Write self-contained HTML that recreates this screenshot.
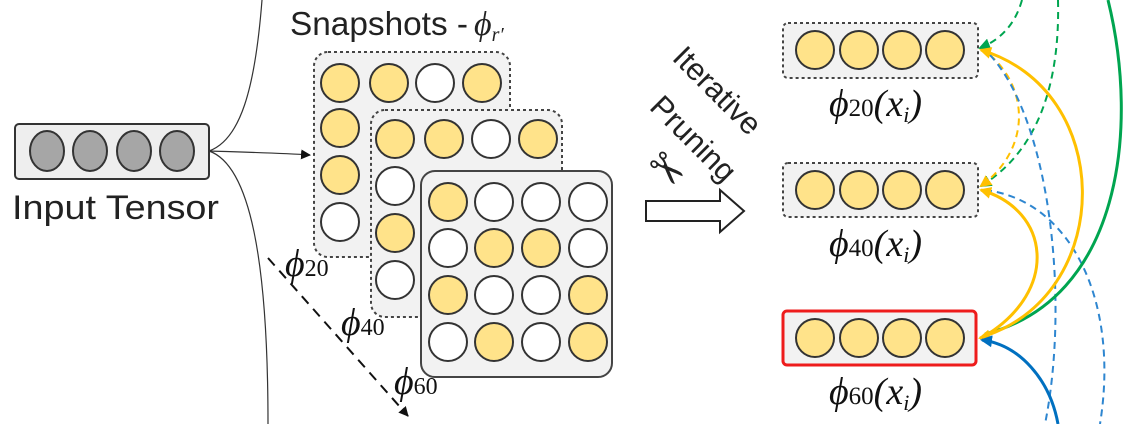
<!DOCTYPE html>
<html><head><meta charset="utf-8"><style>
html,body{margin:0;padding:0;background:#fff;}
svg{display:block;}
.sans{font-family:"Liberation Sans",sans-serif;}
.ser{font-family:"Liberation Serif","DejaVu Serif",serif;font-style:italic;}
</style></head><body>
<svg width="1143" height="424" viewBox="0 0 1143 424" xmlns="http://www.w3.org/2000/svg">
<defs>
<marker id="ak" markerWidth="10" markerHeight="10" refX="9" refY="5" orient="auto" markerUnits="userSpaceOnUse"><path d="M0,0 L10,5 L0,10 z" fill="#111"/></marker>
<marker id="ay" markerWidth="12" markerHeight="12" refX="10" refY="6" orient="auto" markerUnits="userSpaceOnUse"><path d="M0,0 L12,6 L0,12 z" fill="#FFC000"/></marker>
<marker id="ag" markerWidth="12" markerHeight="12" refX="10" refY="6" orient="auto" markerUnits="userSpaceOnUse"><path d="M0,0 L12,6 L0,12 z" fill="#00A550"/></marker>
<marker id="ab" markerWidth="12" markerHeight="12" refX="10" refY="6" orient="auto" markerUnits="userSpaceOnUse"><path d="M0,0 L12,6 L0,12 z" fill="#0070C0"/></marker>
</defs>

<path d="M209,151 C240,140 255,90 262,0" fill="none" stroke="#333" stroke-width="1.2"/>
<path d="M209,151 C240,152 280,153 310,155" fill="none" stroke="#333" stroke-width="1.2" marker-end="url(#ak)"/>
<path d="M209,151 C250,165 268,260 268,424" fill="none" stroke="#333" stroke-width="1.2"/>

<rect x="15" y="124" width="194" height="55" rx="4" fill="#eee" stroke="#333" stroke-width="2"/>
<g fill="#a6a6a6" stroke="#333" stroke-width="2">
<ellipse cx="47" cy="151" rx="17" ry="20"/><ellipse cx="90" cy="151" rx="17" ry="20"/>
<ellipse cx="134" cy="151" rx="17" ry="20"/><ellipse cx="177" cy="151" rx="17" ry="20"/>
</g>
<text x="12" y="219" class="sans" font-size="34" fill="#222" textLength="207" lengthAdjust="spacingAndGlyphs">Input Tensor</text>

<text x="290" y="35" class="sans" font-size="33" fill="#222"><tspan textLength="178" lengthAdjust="spacingAndGlyphs">Snapshots -</tspan><tspan class="ser" font-size="34" dx="6">ϕ</tspan><tspan class="ser" font-size="20" dy="6">r′</tspan></text>

<rect x="314" y="52" width="196" height="205" rx="14" fill="#f2f2f2" stroke="#444" stroke-width="2" stroke-dasharray="3,3"/>
<g stroke="#333" stroke-width="2">
<circle cx="340" cy="83" r="19" fill="#FFE38A"/><circle cx="389" cy="83" r="19" fill="#FFE38A"/><circle cx="435" cy="83" r="19" fill="#fff"/><circle cx="482" cy="83" r="19" fill="#FFE38A"/>
<circle cx="340" cy="128" r="19" fill="#FFE38A"/><circle cx="340" cy="175" r="19" fill="#FFE38A"/><circle cx="340" cy="222" r="19" fill="#fff"/>
</g>
<rect x="371" y="110" width="191" height="207" rx="14" fill="#f2f2f2" stroke="#444" stroke-width="2" stroke-dasharray="3,3"/>
<g stroke="#333" stroke-width="2">
<circle cx="395" cy="139" r="19" fill="#FFE38A"/><circle cx="444" cy="139" r="19" fill="#FFE38A"/><circle cx="491" cy="139" r="19" fill="#fff"/><circle cx="538" cy="139" r="19" fill="#FFE38A"/>
<circle cx="395" cy="186" r="19" fill="#fff"/><circle cx="395" cy="233" r="19" fill="#FFE38A"/><circle cx="395" cy="280" r="19" fill="#fff"/>
</g>
<rect x="421" y="171" width="191" height="206" rx="14" fill="#f2f2f2" stroke="#444" stroke-width="2"/>
<g stroke="#333" stroke-width="2">
<circle cx="448" cy="202" r="19" fill="#FFE38A"/><circle cx="494" cy="202" r="19" fill="#fff"/><circle cx="541" cy="202" r="19" fill="#fff"/><circle cx="588" cy="202" r="19" fill="#fff"/>
<circle cx="448" cy="248" r="19" fill="#fff"/><circle cx="494" cy="248" r="19" fill="#FFE38A"/><circle cx="541" cy="248" r="19" fill="#FFE38A"/><circle cx="588" cy="248" r="19" fill="#fff"/>
<circle cx="448" cy="295" r="19" fill="#FFE38A"/><circle cx="494" cy="295" r="19" fill="#fff"/><circle cx="541" cy="295" r="19" fill="#fff"/><circle cx="588" cy="295" r="19" fill="#FFE38A"/>
<circle cx="448" cy="342" r="19" fill="#fff"/><circle cx="494" cy="342" r="19" fill="#FFE38A"/><circle cx="541" cy="342" r="19" fill="#fff"/><circle cx="588" cy="342" r="19" fill="#FFE38A"/>
</g>

<line x1="268" y1="258" x2="408" y2="416" stroke="#111" stroke-width="2" stroke-dasharray="10,7" marker-end="url(#ak)"/>
<text x="285" y="276" class="ser" font-size="38" fill="#111">ϕ<tspan font-size="24" font-style="normal">20</tspan></text>
<text x="341" y="335" class="ser" font-size="38" fill="#111">ϕ<tspan font-size="24" font-style="normal">40</tspan></text>
<text x="394" y="394" class="ser" font-size="38" fill="#111">ϕ<tspan font-size="24" font-style="normal">60</tspan></text>

<text class="sans" font-size="31" fill="#222" text-anchor="middle" transform="translate(710,98) rotate(45)">Iterative</text>
<text class="sans" font-size="31" fill="#222" text-anchor="middle" transform="translate(686,146) rotate(45)">Pruning</text>
<text x="0" y="0" font-size="44" fill="#222" font-family="DejaVu Sans,sans-serif" text-anchor="middle" transform="translate(656,180) rotate(45)">✂</text>
<path d="M646,201 L720,201 L720,190 L744,211 L720,232 L720,221 L646,221 Z" fill="#fff" stroke="#222" stroke-width="2"/>

<rect x="783" y="23" width="195" height="55" rx="5" fill="#f2f2f2" stroke="#444" stroke-width="2" stroke-dasharray="3,3"/>
<rect x="783" y="163" width="195" height="54" rx="5" fill="#f2f2f2" stroke="#444" stroke-width="2" stroke-dasharray="3,3"/>
<rect x="783" y="311" width="193" height="54" rx="4" fill="#f2f2f2" stroke="#ee1c1c" stroke-width="3"/>
<g stroke="#333" stroke-width="2" fill="#FFE38A">
<circle cx="815" cy="50" r="19"/><circle cx="859" cy="50" r="19"/><circle cx="902" cy="50" r="19"/><circle cx="945" cy="50" r="19"/>
<circle cx="815" cy="190" r="19"/><circle cx="859" cy="190" r="19"/><circle cx="902" cy="190" r="19"/><circle cx="945" cy="190" r="19"/>
<circle cx="815" cy="338" r="19"/><circle cx="859" cy="338" r="19"/><circle cx="902" cy="338" r="19"/><circle cx="945" cy="338" r="19"/>
</g>
<text x="829" y="116" class="ser" font-size="38" fill="#111">ϕ<tspan font-size="25" font-style="normal">20</tspan>(x<tspan font-size="22" dy="6">i</tspan><tspan dy="-6">)</tspan></text>
<text x="829" y="256" class="ser" font-size="38" fill="#111">ϕ<tspan font-size="25" font-style="normal">40</tspan>(x<tspan font-size="22" dy="6">i</tspan><tspan dy="-6">)</tspan></text>
<text x="829" y="404" class="ser" font-size="38" fill="#111">ϕ<tspan font-size="25" font-style="normal">60</tspan>(x<tspan font-size="22" dy="6">i</tspan><tspan dy="-6">)</tspan></text>

<g fill="none" stroke-width="2">
<path d="M1022,0 C1015,25 1000,40 980,48" stroke="#00A550" stroke-dasharray="7,5" marker-end="url(#ag)"/>
<path d="M1058,0 C1060,80 1040,150 981,186" stroke="#00A550" stroke-dasharray="7,5" marker-end="url(#ag)"/>
<path d="M990,55 C1030,90 1030,150 981,186" stroke="#FFC000" stroke-dasharray="7,5" marker-end="url(#ay)"/>
<path d="M990,55 C1050,120 1070,300 1045,424" stroke="#2E86D0" stroke-dasharray="7,5"/>
<path d="M985,190 C1070,200 1120,300 1100,424" stroke="#2E86D0" stroke-dasharray="7,5"/>
<path d="M1108,0 C1140,130 1120,300 985,334" stroke="#00A550" stroke-width="3"/>
<path d="M988,335 C1115,290 1115,90 981,50" stroke="#FFC000" stroke-width="3" marker-end="url(#ay)"/>
<path d="M985,336 C1060,290 1050,210 981,190" stroke="#FFC000" stroke-width="3" marker-end="url(#ay)"/>
<path d="M988,336 L980,338" stroke="#FFC000" stroke-width="3" marker-end="url(#ay)"/>
<path d="M1058,424 C1050,380 1020,345 982,340" stroke="#0070C0" stroke-width="3" marker-end="url(#ab)"/>
</g>
</svg>
</body></html>
